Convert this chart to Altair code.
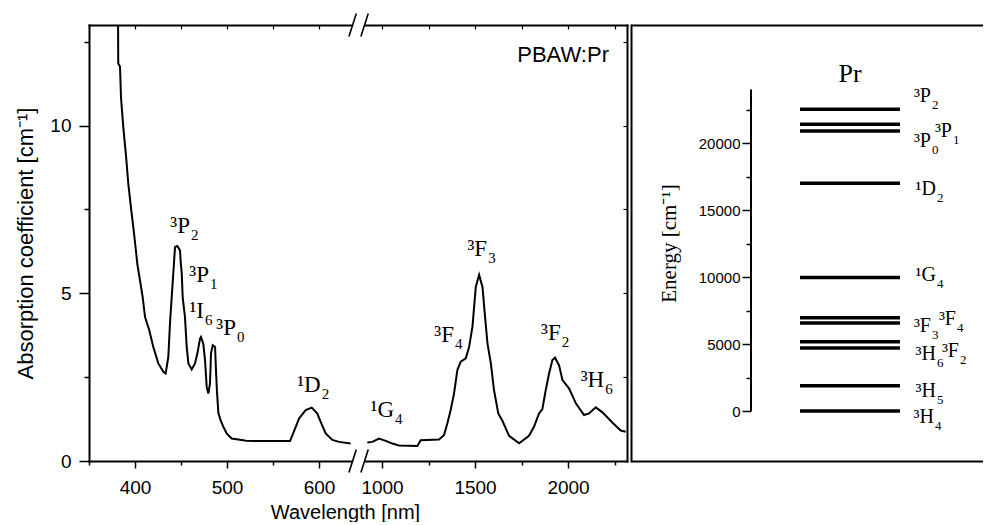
import altair as alt
import pandas as pd

# ---------------- data ----------------
# absorption spectrum, visible part (nm, cm^-1)
vis_wl = [381.6, 381.8, 383.7, 384.8, 387.3, 390.2, 392.7, 395.7, 398.2, 400.5,
          402.5, 405.4, 408.3, 410.9, 415.5, 419.9, 425.3, 430.8, 433.3, 436.2,
          438.0, 439.9, 441.6, 443.5, 446.0, 448.9, 449.7, 450.8, 451.8, 454.3,
          456.2, 458.0, 461.6, 465.2, 467.8, 470.7, 471.7, 474.2, 476.1, 477.9,
          479.7, 481.5, 482.6, 484.5, 487.0, 488.0, 489.0, 490.6, 493.0, 496.0,
          499.6, 505.0, 517.7, 521.0, 530.0, 568.5, 574.7, 578.3, 585.5, 592.0,
          598.0, 601.8, 607.2, 614.5, 621.7, 634.4]
vis_abs = [13.0, 11.85, 11.76, 10.83, 9.94, 9.11, 8.27, 7.53, 6.96, 6.40,
           5.88, 5.39, 4.89, 4.29, 3.90, 3.40, 2.91, 2.66, 2.61, 3.10,
           4.10, 4.89, 5.59, 6.38, 6.41, 6.28, 5.93, 5.59, 4.89, 4.29,
           3.40, 2.91, 2.73, 2.91, 3.21, 3.65, 3.70, 3.50, 3.01, 2.21,
           2.01, 2.31, 3.21, 3.45, 3.40, 2.71, 2.11, 1.43, 1.22, 1.02,
           0.82, 0.67, 0.62, 0.60, 0.595, 0.595, 1.02, 1.27, 1.52, 1.59,
           1.42, 1.17, 0.82, 0.63, 0.57, 0.52]
# absorption spectrum, infrared part
ir_wl = [921, 948, 984, 1020, 1055, 1091, 1190, 1208, 1306, 1333,
         1351, 1369, 1387, 1405, 1423, 1450, 1468, 1486, 1495, 1504,
         1522, 1540, 1554, 1567, 1585, 1602, 1625, 1647, 1683, 1737,
         1790, 1817, 1844, 1862, 1880, 1898, 1916, 1930, 1952, 1970,
         2006, 2042, 2086, 2113, 2149, 2185, 2238, 2283, 2310]
ir_abs = [0.55, 0.57, 0.67, 0.60, 0.52, 0.46, 0.45, 0.62, 0.64, 0.77,
          1.12, 1.52, 2.01, 2.71, 2.96, 3.06, 3.40, 4.00, 4.59, 5.19,
          5.55, 5.19, 4.29, 3.50, 2.91, 2.11, 1.42, 1.20, 0.75, 0.53,
          0.75, 1.02, 1.42, 1.55, 2.11, 2.61, 3.01, 3.08, 2.85, 2.41,
          2.16, 1.72, 1.37, 1.42, 1.60, 1.45, 1.15, 0.91, 0.87]

# peak labels: term symbol (with superscript multiplicity) + subscript J
peak_main = ["³P", "³P", "¹I", "³P", "¹D", "¹G", "³F", "³F", "³F", "³H"]
peak_sub = ["2", "1", "6", "0", "2", "4", "4", "3", "2", "6"]
peak_label_wl = [459.8, 480.4, 475.0, 509.8, 601.8, 1064.5, 1387, 1565, 1960.7, 2194.6]
peak_label_abs = [6.79, 5.34, 4.25, 3.75, 2.06, 1.32, 3.55, 6.10, 3.60, 2.21]

sample_label = ["PBAW:Pr"]
sample_label_wl = [2220]
sample_label_abs = [11.9]

x_major = [400, 500, 600, 1000, 1500, 2000]
x_minor = [350, 450, 550, 1250, 1750, 2250]
y_major = [0, 5, 10]
y_minor = [2.5, 7.5, 12.5]

# axis break: wavelengths 643 .. 874 nm collapsed to one point
wl_domain = [350, 643, 874, 2317]
break_wl = [643, 643]
break_abs = [0, 13]

# energy level diagram (cm^-1)
level_main = ["³H", "³H", "³H", "³F", "³F", "³F", "¹G", "¹D", "³P", "³P", "³P"]
level_sub = ["4", "5", "6", "2", "3", "4", "4", "2", "0", "1", "2"]
level_energy = [0, 1890, 4700, 5170, 6570, 6960, 9970, 16990, 20900, 21400, 22520]
level_label_energy = [-900, 1045, 3800, 4030, 5900, 6420, 9700, 16120, 19700, 20450, 23060]
level_label_x = [303, 305, 305, 328, 300, 325, 305, 305, 300, 321, 300]
energy_axis_range = [0, 24000]
e_major = [0, 5000, 10000, 15000, 20000]
e_minor = [2500, 7500, 12500, 17500, 22500]
ion_label = ["Pr"]

# ---------------- styling ----------------
SANS = "Liberation Sans, Arial, sans-serif"
SERIF = "Liberation Serif, Times New Roman, serif"
BLACK = "black"

x_scale = alt.Scale(domain=wl_domain, range=[0, 269.6, 269.6, 538], nice=False, zero=False)
y_scale = alt.Scale(domain=[0, 13], nice=False, zero=False)

base_ax = dict(grid=False, domainColor=BLACK, tickColor=BLACK, labelColor=BLACK, titleColor=BLACK)
none_ax = dict(domain=False, labels=False, title=None)

x_axis_major = alt.Axis(orient="bottom", values=x_major, format="d", tickSize=7, tickWidth=1.5,
                        domainWidth=2, domainCap="square", labelFont=SANS, labelFontSize=19,
                        labelPadding=10, labelFlush=False, labelOverlap=False,
                        title="Wavelength [nm]", titleFont=SANS, titleFontSize=20,
                        titleFontWeight="normal", titlePadding=5, titleX=256, **base_ax)
y_axis_major = alt.Axis(orient="left", values=y_major, format="d", tickSize=10, tickWidth=1.5,
                        domainWidth=2, domainCap="square", labelFont=SANS, labelFontSize=19,
                        labelPadding=8, title="Absorption coefficient [cm⁻¹]", titleFont=SANS,
                        titleFontSize=22, titleFontWeight="normal", titlePadding=12, **base_ax)
x_axis_minor = alt.Axis(orient="bottom", values=x_minor, tickSize=4, tickWidth=1.5, **none_ax, **base_ax)
y_axis_minor = alt.Axis(orient="left", values=y_minor, tickSize=5, tickWidth=1.5, **none_ax, **base_ax)
x_axis_in = alt.Axis(orient="top", offset=-4, values=x_major + x_minor, tickSize=4, tickWidth=1.2,
                     **none_ax, **base_ax)
y_axis_in = alt.Axis(orient="right", offset=-4, values=y_major + y_minor, tickSize=4, tickWidth=1.2,
                     **none_ax, **base_ax)
x_axis_frame_top = alt.Axis(orient="top", domain=True, domainWidth=2, domainCap="square", ticks=False,
                            labels=False, title=None, grid=False, domainColor=BLACK)
y_axis_frame_right = alt.Axis(orient="right", domain=True, domainWidth=2, domainCap="square", ticks=False,
                              labels=False, title=None, grid=False, domainColor=BLACK)

# ---------------- left panel: spectrum ----------------
spec_df = pd.DataFrame({
    "wl": vis_wl + ir_wl,
    "a": vis_abs + ir_abs,
    "seg": ["vis"] * len(vis_wl) + ["ir"] * len(ir_wl),
})
line = alt.Chart(spec_df).mark_line(color=BLACK, strokeWidth=2).encode(
    x=alt.X("wl:Q", scale=x_scale, axis=x_axis_major),
    y=alt.Y("a:Q", scale=y_scale, axis=y_axis_major),
    detail="seg:N",
)

peak_df = pd.DataFrame({"main": peak_main, "sub": peak_sub,
                        "wl": peak_label_wl, "a": peak_label_abs})
peaks_main = alt.Chart(peak_df).mark_text(align="right", baseline="alphabetic", font=SERIF,
                                          fontSize=23, color=BLACK).encode(
    x=alt.X("wl:Q", scale=x_scale, axis=x_axis_minor),
    y=alt.Y("a:Q", scale=y_scale, axis=y_axis_minor),
    text="main:N",
)
peaks_sub = alt.Chart(peak_df).mark_text(align="left", baseline="alphabetic", font=SERIF,
                                         fontSize=15, dx=1, dy=7, color=BLACK).encode(
    x=alt.X("wl:Q", scale=x_scale, axis=None),
    y=alt.Y("a:Q", scale=y_scale, axis=None),
    text="sub:N",
)

note_df = pd.DataFrame({"t": sample_label, "wl": sample_label_wl, "a": sample_label_abs})
note = alt.Chart(note_df).mark_text(align="right", baseline="alphabetic", font=SANS,
                                    fontSize=22, color=BLACK).encode(
    x=alt.X("wl:Q", scale=x_scale, axis=x_axis_in),
    y=alt.Y("a:Q", scale=y_scale, axis=y_axis_in),
    text="t:N",
)

brk_df = pd.DataFrame({"wl": break_wl, "a": break_abs})
gap = alt.Chart(brk_df).mark_point(
    shape="M-0.52,-0.17 L0.52,-0.17 L0.52,0.17 L-0.52,0.17 Z",
    size=529, filled=True, fill="white", opacity=1, strokeWidth=0,
).encode(
    x=alt.X("wl:Q", scale=x_scale, axis=x_axis_frame_top),
    y=alt.Y("a:Q", scale=y_scale, axis=y_axis_frame_right),
)
slashes = alt.Chart(brk_df).mark_point(
    shape="M-0.84,1 L-0.2,-1 M0.2,1 L0.84,-1",
    size=529, filled=False, stroke=BLACK, strokeWidth=1.6, opacity=1,
).encode(
    x=alt.X("wl:Q", scale=x_scale, axis=None),
    y=alt.Y("a:Q", scale=y_scale, axis=None),
)

left = alt.layer(line, peaks_main, peaks_sub, note, gap, slashes).resolve_axis(
    x="independent", y="independent"
).properties(width=538, height=436)

# ---------------- right panel: energy levels ----------------
xr_scale = alt.Scale(domain=[0, 352], nice=False, zero=False)
yr_scale = alt.Scale(domain=[-3731, 28806], nice=False, zero=False)

energy_axis_major = alt.Axis(orient="left", offset=-120, values=e_major, format="d", domain=False,
                             tickSize=9, tickWidth=1.5, labelFont=SANS, labelFontSize=15,
                             labelPadding=2, title="Energy [cm⁻¹]", titleFont=SERIF,
                             titleFontSize=21, titleFontWeight="normal", titlePadding=19, **base_ax)
energy_axis_minor = alt.Axis(orient="left", offset=-120, values=e_minor, tickSize=5, tickWidth=1.5,
                             **none_ax, **base_ax)
frame_top = alt.Axis(orient="top", domain=True, domainWidth=2, ticks=False, labels=False,
                     title=None, grid=False, domainColor=BLACK)
frame_bottom = alt.Axis(orient="bottom", domain=True, domainWidth=2, ticks=False, labels=False,
                        title=None, grid=False, domainColor=BLACK)
frame_left = alt.Axis(orient="left", domain=True, domainWidth=2, domainCap="square", ticks=False,
                      labels=False, title=None, grid=False, domainColor=BLACK)

axis_df = pd.DataFrame({"e0": [energy_axis_range[0]], "e1": [energy_axis_range[1]]})
axis_line = alt.Chart(axis_df).mark_rule(color=BLACK, strokeWidth=2).encode(
    x=alt.X(datum=120, type="quantitative", scale=xr_scale, axis=frame_top),
    y=alt.Y("e0:Q", scale=yr_scale, axis=energy_axis_major),
    y2="e1:Q",
)

level_df = pd.DataFrame({"E": level_energy})
levels = alt.Chart(level_df).mark_rule(color=BLACK, strokeWidth=3.5).encode(
    x=alt.X(datum=169, type="quantitative", scale=xr_scale, axis=frame_bottom),
    x2=alt.X2(datum=269),
    y=alt.Y("E:Q", scale=yr_scale, axis=energy_axis_minor),
)

lab_df = pd.DataFrame({"main": level_main, "sub": level_sub,
                       "Ey": level_label_energy, "lx": level_label_x})
level_main_txt = alt.Chart(lab_df).mark_text(align="right", baseline="alphabetic", font=SERIF,
                                             fontSize=20, color=BLACK).encode(
    x=alt.X("lx:Q", scale=xr_scale, axis=None),
    y=alt.Y("Ey:Q", scale=yr_scale, axis=frame_left),
    text="main:N",
)
level_sub_txt = alt.Chart(lab_df).mark_text(align="left", baseline="alphabetic", font=SERIF,
                                            fontSize=13, dx=1, dy=7, color=BLACK).encode(
    x=alt.X("lx:Q", scale=xr_scale, axis=None),
    y=alt.Y("Ey:Q", scale=yr_scale, axis=None),
    text="sub:N",
)

ion_df = pd.DataFrame({"t": ion_label})
ion = alt.Chart(ion_df).mark_text(align="center", baseline="alphabetic", font=SERIF,
                                  fontSize=26, color=BLACK).encode(
    x=alt.X(datum=219, type="quantitative", scale=xr_scale, axis=None),
    y=alt.Y(datum=24545, type="quantitative", scale=yr_scale, axis=None),
    text="t:N",
)

right = alt.layer(axis_line, levels, level_main_txt, level_sub_txt, ion).resolve_axis(
    x="independent", y="independent"
).properties(width=352, height=436)

chart = alt.hconcat(left, right, spacing=4, bounds="flush").properties(
    padding={"left": 14, "top": 10, "right": 0, "bottom": 0},
    background="white",
).configure_view(strokeWidth=0)

chart.save("out.html", embed_options={"renderer": "svg", "actions": False})
